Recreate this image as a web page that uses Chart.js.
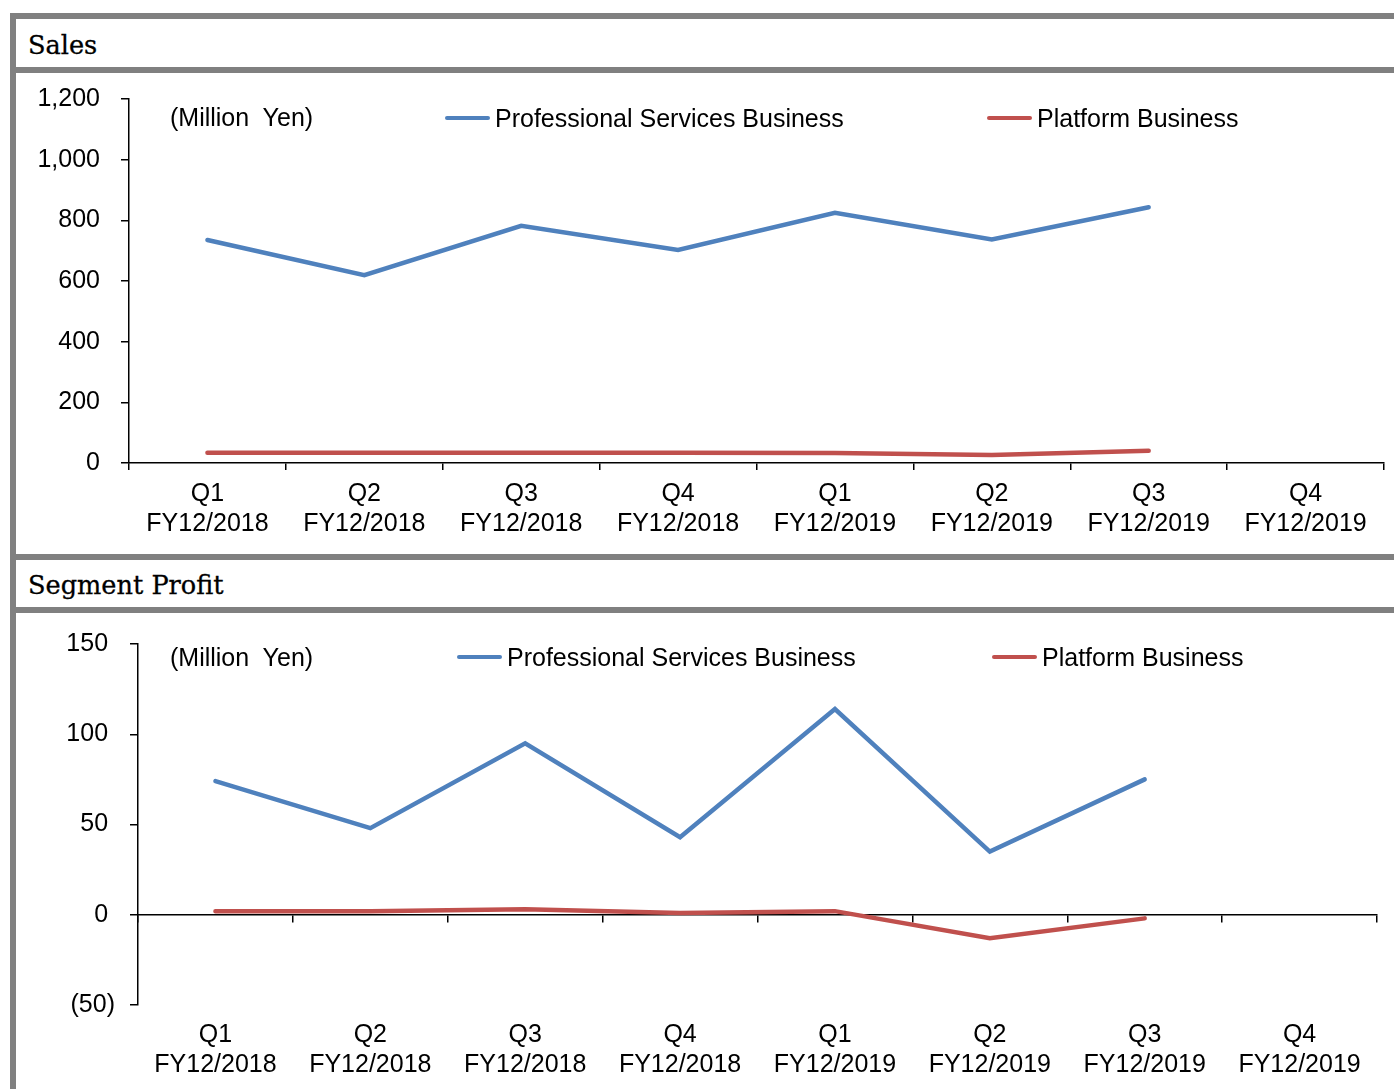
<!DOCTYPE html>
<html>
<head>
<meta charset="utf-8">
<script src="https://cdn.jsdelivr.net/npm/chart.js@4.4.1/dist/chart.umd.min.js"></script>
<style>
  html, body { margin: 0; padding: 0; background: #fff; }
  #page { position: relative; width: 1394px; height: 1089px; overflow: hidden; }
  .bar { position: absolute; background: #808080; }
  .head { position: absolute; left: 28px; font-family: "DejaVu Serif", serif; font-size: 25.6px; line-height: 30px; color: #000; -webkit-text-stroke: 0.3px #000; }
  .box { position: absolute; left: 16px; width: 1378px; }
  .note, .leg { position: absolute; font-family: "Liberation Sans", Arial, sans-serif; font-size: 25px; line-height: 28px; color: #000; white-space: pre; }
  .leg { display: flex; align-items: center; }
  .leg i { display: inline-block; width: 45px; height: 4.5px; border-radius: 2px; margin-right: 5px; }
</style>
</head>
<body>
<div id="page">
  <div class="bar" style="left:10px;top:13px;width:6px;height:1076px"></div>
  <div class="bar" style="left:10px;top:13px;width:1384px;height:6px"></div>
  <div class="bar" style="left:10px;top:67px;width:1384px;height:6px"></div>
  <div class="bar" style="left:10px;top:554px;width:1384px;height:6px"></div>
  <div class="bar" style="left:10px;top:607px;width:1384px;height:6px"></div>

  <div class="head" style="top:30px">Sales</div>
  <div class="head" style="top:570px">Segment Profit</div>

  <div class="box" style="top:73px;height:481px"><canvas id="salesChart"></canvas></div>
  <div class="box" style="top:613px;height:476px"><canvas id="profitChart"></canvas></div>

  <div class="note" style="left:170px;top:103px">(Million  Yen)</div>
  <div class="leg" style="left:445px;top:104px"><i style="background:#4F81BD"></i>Professional Services Business</div>
  <div class="leg" style="left:987px;top:104px"><i style="background:#C0504D"></i>Platform Business</div>

  <div class="note" style="left:170px;top:643px">(Million  Yen)</div>
  <div class="leg" style="left:457px;top:643px"><i style="background:#4F81BD"></i>Professional Services Business</div>
  <div class="leg" style="left:992px;top:643px"><i style="background:#C0504D"></i>Platform Business</div>
</div>

<script>
// ---- data (million yen) ----
const quarters = [
    ["Q1", "FY12/2018"], ["Q2", "FY12/2018"], ["Q3", "FY12/2018"], ["Q4", "FY12/2018"],
    ["Q1", "FY12/2019"], ["Q2", "FY12/2019"], ["Q3", "FY12/2019"], ["Q4", "FY12/2019"]
];
const seriesNames = ["Professional Services Business", "Platform Business"];

const salesPro = [735, 619, 782, 702, 825, 737, 843, null];
const salesPlat = [34, 34, 34, 34, 33, 26, 40, null];

const profitPro = [74, 48, 95, 43, 114, 35, 75, null];
const profitPlat = [2, 2, 3, 1, 2, -13, -2, null];

const BLUE = "#4F81BD";
const RED = "#C0504D";
const FONT = "'Liberation Sans', Arial, sans-serif";

Chart.defaults.font.family = FONT;
Chart.defaults.font.size = 25;
Chart.defaults.color = "#000";

function lineSet(label, data, color) {
    return {
        label: label,
        data: data,
        borderColor: color,
        backgroundColor: color,
        borderWidth: 4.5,
        pointRadius: 0,
        tension: 0,
        borderCapStyle: "round",
        spanGaps: false
    };
}

// y ticks: keep the label padding from pushing the plot down
function noVertPad(s) {
    s.paddingTop = 0;
    s.paddingBottom = 0;
}

const baseOpts = {
    responsive: true,
    maintainAspectRatio: false,
    devicePixelRatio: 1,
    animation: false,
    events: [],
    plugins: { legend: { display: false }, tooltip: { enabled: false } }
};

// ============================
// Sales
// ============================
new Chart(document.getElementById("salesChart"), {
    type: "line",
    data: {
        labels: quarters,
        datasets: [
            lineSet(seriesNames[0], salesPro, BLUE),
            lineSet(seriesNames[1], salesPlat, RED)
        ]
    },
    options: Object.assign({}, baseOpts, {
        layout: { padding: { left: 0, right: 10, top: 26, bottom: 0 } },
        scales: {
            x: {
                offset: true,
                grid: {
                    offset: true,
                    drawOnChartArea: false,
                    color: c => c.index >= quarters.length ? "rgba(0,0,0,0)" : "#000",
                    lineWidth: 1.5,
                    tickLength: 7
                },
                border: { color: "#000", width: 1.5 },
                ticks: { padding: 9, maxRotation: 0, autoSkip: false },
                afterFit(s) { s.height = 91; }
            },
            y: {
                min: 0,
                max: 1200,
                ticks: { stepSize: 200, padding: 21, callback: v => v.toLocaleString("en-US") },
                grid: { drawOnChartArea: false, color: "#000", lineWidth: 1.5, tickLength: 8 },
                border: { color: "#000", width: 1.5 },
                afterFit(s) { s.width = 113; noVertPad(s); }
            }
        }
    })
});

// ============================
// Segment Profit
// ============================
new Chart(document.getElementById("profitChart"), {
    type: "line",
    data: {
        labels: quarters,
        datasets: [
            lineSet(seriesNames[0], profitPro, BLUE),
            lineSet(seriesNames[1], profitPlat, RED)
        ]
    },
    options: Object.assign({}, baseOpts, {
        layout: { padding: { left: 0, right: 17, top: 31, bottom: 0 } },
        scales: {
            // labels along the bottom
            x: {
                offset: true,
                grid: { display: false, drawTicks: false },
                border: { display: false },
                ticks: { padding: 15, maxRotation: 0, autoSkip: false },
                afterFit(s) { s.height = 84; }
            },
            // axis line with tick marks, sitting on zero
            xz: {
                axis: "x",
                type: "category",
                position: { y: 0 },
                offset: true,
                grid: { offset: true, drawOnChartArea: false, color: "#000", lineWidth: 1.5, tickLength: 7 },
                border: { color: "#000", width: 1.5 },
                ticks: { display: false }
            },
            y: {
                min: -50,
                max: 150,
                ticks: {
                    stepSize: 50,
                    padding: 15,
                    callback: v => v < 0 ? "(" + (-v) + ")" : v + " "
                },
                grid: { drawOnChartArea: false, color: "#000", lineWidth: 1.5, tickLength: 8 },
                border: { color: "#000", width: 1.5 },
                afterFit(s) { s.width = 122; noVertPad(s); }
            }
        }
    })
});
</script>
</body>
</html>
